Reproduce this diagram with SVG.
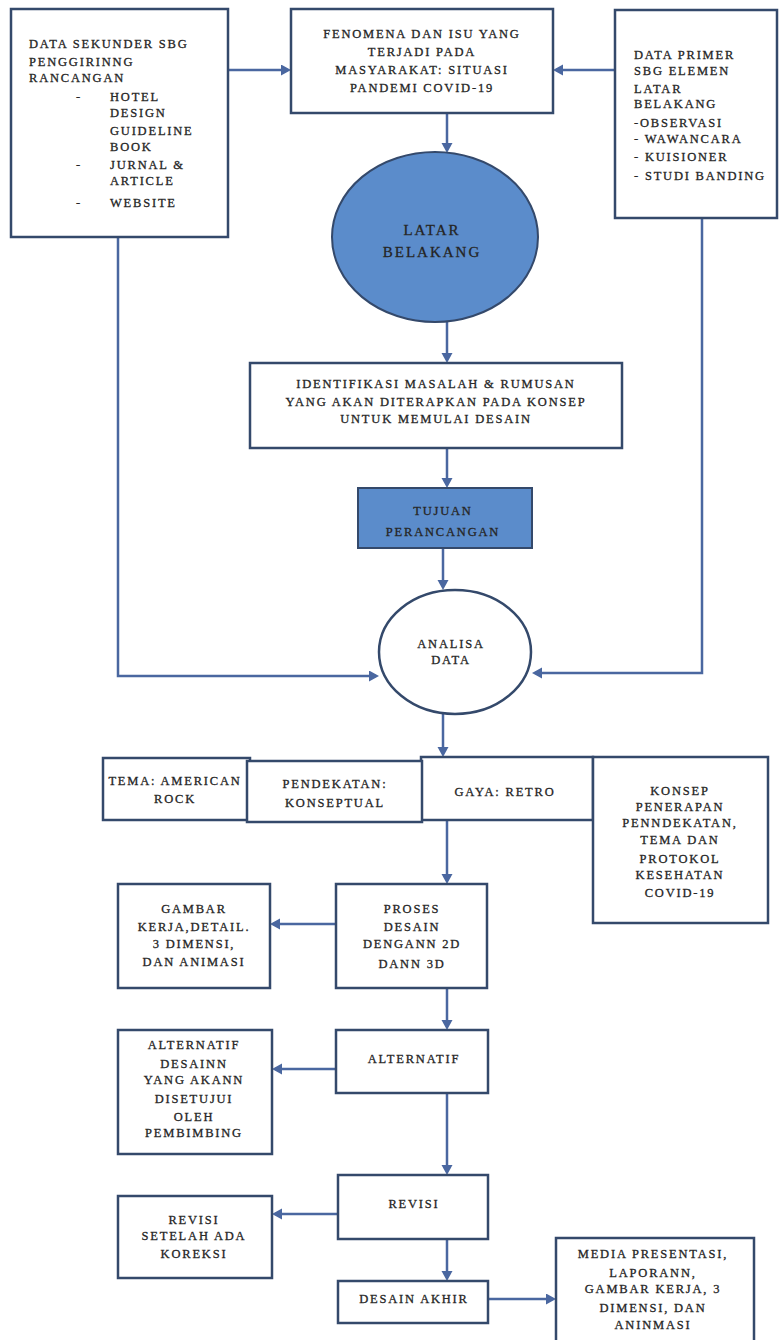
<svg xmlns="http://www.w3.org/2000/svg" width="779" height="1340" viewBox="0 0 779 1340">
<style>
.box{fill:#ffffff;stroke:#34496b;stroke-width:2.5}
.blue{fill:#5b8ccb;stroke:#34496b;stroke-width:2}
.t{font-family:"Liberation Serif","Times New Roman",serif;font-size:12.5px;letter-spacing:1.8px;fill:#222222;stroke:#2a2a2a;stroke-width:0.3px}
.c{text-anchor:middle}
.big{font-size:15px;letter-spacing:2px}
.line{fill:none;stroke:#4a67a0;stroke-width:2.5}
</style>
<defs>
<marker id="ah" markerUnits="userSpaceOnUse" markerWidth="12" markerHeight="12" refX="7" refY="5.5" orient="auto">
<path d="M0,0 L10,5.5 L0,11 z" fill="#4a67a0"/>
</marker>
</defs>
<rect width="779" height="1340" fill="#ffffff"/>

<g id="connectors">
<path class="line" d="M228,70 H288" marker-end="url(#ah)"/>
<path class="line" d="M615,70 H556" marker-end="url(#ah)"/>
<path class="line" d="M447,113 V150" marker-end="url(#ah)"/>
<path class="line" d="M447,322 V360" marker-end="url(#ah)"/>
<path class="line" d="M447,448 V485" marker-end="url(#ah)"/>
<path class="line" d="M443,548 V587" marker-end="url(#ah)"/>
<path class="line" d="M118,237 V676 H376" marker-end="url(#ah)"/>
<path class="line" d="M702,218 V673 H535" marker-end="url(#ah)"/>
<path class="line" d="M443,714 V754" marker-end="url(#ah)"/>
<path class="line" d="M447,820 V881" marker-end="url(#ah)"/>
<path class="line" d="M336,924 H273" marker-end="url(#ah)"/>
<path class="line" d="M447,988 V1027" marker-end="url(#ah)"/>
<path class="line" d="M336,1069 H275" marker-end="url(#ah)"/>
<path class="line" d="M447,1093 V1172" marker-end="url(#ah)"/>
<path class="line" d="M338,1214 H275" marker-end="url(#ah)"/>
<path class="line" d="M447,1239 V1278" marker-end="url(#ah)"/>
<path class="line" d="M488,1299 H553" marker-end="url(#ah)"/>
</g>

<g id="data-sekunder">
<rect class="box" x="11" y="9" width="217" height="228"/>
<text class="t" x="29" y="48">DATA SEKUNDER SBG</text>
<text class="t" x="29" y="66">PENGGIRINNG</text>
<text class="t" x="29" y="82">RANCANGAN</text>
<text class="t" x="76" y="101">-</text>
<text class="t" x="110" y="101">HOTEL</text>
<text class="t" x="110" y="117">DESIGN</text>
<text class="t" x="110" y="135">GUIDELINE</text>
<text class="t" x="110" y="151">BOOK</text>
<text class="t" x="76" y="169">-</text>
<text class="t" x="110" y="169">JURNAL &amp;</text>
<text class="t" x="110" y="185">ARTICLE</text>
<text class="t" x="76" y="207">-</text>
<text class="t" x="110" y="207">WEBSITE</text>
</g>

<g id="fenomena">
<rect class="box" x="291" y="9" width="262" height="104"/>
<text class="t c" x="422" y="38">FENOMENA DAN ISU YANG</text>
<text class="t c" x="422" y="56">TERJADI PADA</text>
<text class="t c" x="422" y="74">MASYARAKAT: SITUASI</text>
<text class="t c" x="422" y="92">PANDEMI COVID-19</text>
</g>

<g id="data-primer">
<rect class="box" x="615" y="10" width="162" height="208"/>
<text class="t" x="634" y="59">DATA PRIMER</text>
<text class="t" x="634" y="75">SBG ELEMEN</text>
<text class="t" x="634" y="93">LATAR</text>
<text class="t" x="634" y="108">BELAKANG</text>
<text class="t" x="634" y="127">-OBSERVASI</text>
<text class="t" x="634" y="143">- WAWANCARA</text>
<text class="t" x="634" y="161">- KUISIONER</text>
<text class="t" x="634" y="180">- STUDI BANDING</text>
</g>

<g id="latar-belakang">
<ellipse class="blue" cx="435" cy="237" rx="103" ry="85"/>
<text class="t c big" x="432" y="235">LATAR</text>
<text class="t c big" x="432" y="257">BELAKANG</text>
</g>

<g id="identifikasi">
<rect class="box" x="250" y="363" width="372" height="85"/>
<text class="t c" x="436" y="388">IDENTIFIKASI MASALAH &amp; RUMUSAN</text>
<text class="t c" x="436" y="406">YANG AKAN DITERAPKAN PADA KONSEP</text>
<text class="t c" x="436" y="423">UNTUK MEMULAI DESAIN</text>
</g>

<g id="tujuan">
<rect class="blue" x="358" y="488" width="174" height="60"/>
<text class="t c" x="443" y="515">TUJUAN</text>
<text class="t c" x="443" y="536">PERANCANGAN</text>
</g>

<g id="analisa">
<ellipse class="box" cx="455" cy="652" rx="76" ry="62"/>
<text class="t c" x="451" y="648">ANALISA</text>
<text class="t c" x="451" y="664">DATA</text>
</g>

<g id="tema">
<rect class="box" x="103" y="758" width="147" height="62"/>
<text class="t c" x="175" y="785">TEMA: AMERICAN</text>
<text class="t c" x="175" y="803">ROCK</text>
</g>

<g id="gaya">
<rect class="box" x="421" y="757" width="172" height="63"/>
<text class="t c" x="505" y="796">GAYA: RETRO</text>
</g>

<g id="pendekatan">
<rect class="box" x="247" y="761" width="175" height="61"/>
<text class="t c" x="335" y="788">PENDEKATAN:</text>
<text class="t c" x="335" y="807">KONSEPTUAL</text>
</g>

<g id="konsep">
<rect class="box" x="593" y="757" width="175" height="166"/>
<text class="t c" x="680" y="795">KONSEP</text>
<text class="t c" x="680" y="811">PENERAPAN</text>
<text class="t c" x="680" y="827">PENNDEKATAN,</text>
<text class="t c" x="680" y="844">TEMA DAN</text>
<text class="t c" x="680" y="863">PROTOKOL</text>
<text class="t c" x="680" y="879">KESEHATAN</text>
<text class="t c" x="680" y="897">COVID-19</text>
</g>

<g id="proses">
<rect class="box" x="336" y="884" width="151" height="104"/>
<text class="t c" x="412" y="913">PROSES</text>
<text class="t c" x="412" y="931">DESAIN</text>
<text class="t c" x="412" y="948">DENGANN 2D</text>
<text class="t c" x="412" y="968">DANN 3D</text>
</g>

<g id="gambar">
<rect class="box" x="118" y="884" width="152" height="104"/>
<text class="t c" x="194" y="913">GAMBAR</text>
<text class="t c" x="194" y="931">KERJA,DETAIL.</text>
<text class="t c" x="194" y="948">3 DIMENSI,</text>
<text class="t c" x="194" y="966">DAN ANIMASI</text>
</g>

<g id="alternatif">
<rect class="box" x="336" y="1030" width="152" height="63"/>
<text class="t c" x="414" y="1063">ALTERNATIF</text>
</g>

<g id="alternatif-desain">
<rect class="box" x="118" y="1030" width="154" height="124"/>
<text class="t c" x="194" y="1049">ALTERNATIF</text>
<text class="t c" x="194" y="1068">DESAINN</text>
<text class="t c" x="194" y="1084">YANG AKANN</text>
<text class="t c" x="194" y="1103">DISETUJUI</text>
<text class="t c" x="194" y="1121">OLEH</text>
<text class="t c" x="194" y="1137">PEMBIMBING</text>
</g>

<g id="revisi">
<rect class="box" x="338" y="1175" width="150" height="64"/>
<text class="t c" x="414" y="1208">REVISI</text>
</g>

<g id="revisi-koreksi">
<rect class="box" x="118" y="1196" width="154" height="82"/>
<text class="t c" x="194" y="1224">REVISI</text>
<text class="t c" x="194" y="1240">SETELAH ADA</text>
<text class="t c" x="194" y="1258">KOREKSI</text>
</g>

<g id="desain-akhir">
<rect class="box" x="338" y="1281" width="150" height="42"/>
<text class="t c" x="414" y="1303">DESAIN AKHIR</text>
</g>

<g id="media">
<rect class="box" x="556" y="1238" width="198" height="110"/>
<text class="t c" x="653" y="1258">MEDIA PRESENTASI,</text>
<text class="t c" x="653" y="1277">LAPORANN,</text>
<text class="t c" x="653" y="1293">GAMBAR KERJA, 3</text>
<text class="t c" x="653" y="1312">DIMENSI, DAN</text>
<text class="t c" x="653" y="1329">ANINMASI</text>
</g>
</svg>
